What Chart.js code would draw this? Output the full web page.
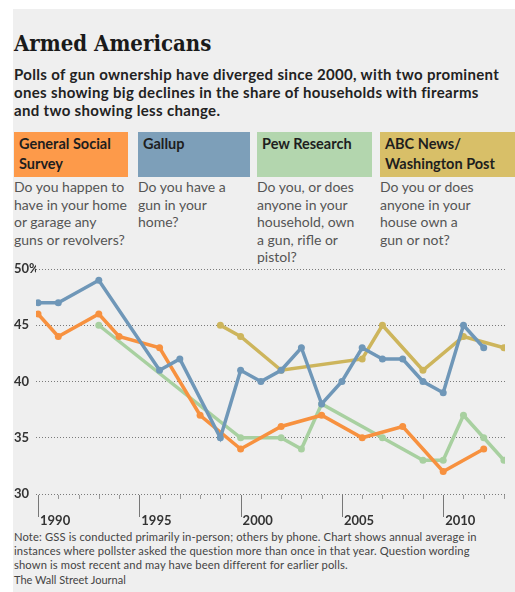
<!DOCTYPE html>
<html lang="en">
<head>
    <meta charset="UTF-8">
    <title>Armed Americans</title>
    <script src="https://cdn.jsdelivr.net/npm/chart.js@4.4.2/dist/chart.umd.min.js"></script>
    <style>
        body {
          margin: 0;
          background: #fff;
          width: 515px;
          height: 592px;
          overflow: hidden;
          font-family: Lato, 'Open Sans', sans-serif;
          color: #222;}
        .panel {
          position: absolute;
          left: 13px; top: 9px; right: 0; bottom: 0;
          background: #efefef;}
        .title {
          position: absolute;
          left: 14px; top: 30px;
          font-family: 'DejaVu Serif Condensed', 'DejaVu Serif', serif;
          font-weight: bold;
          font-size: 22px;
          color: #1a1a1a;}
        .sub {
          position: absolute;
          left: 14px; top: 65px; width: 500px;
          font-weight: bold;
          font-size: 15px;
          line-height: 18px;
          letter-spacing: 0.33px;
          white-space: nowrap;
          color: #222;}
        .box {
          position: absolute;
          top: 132px; height: 45px;
          box-sizing: border-box;
          padding: 2px 0 0 5px;
          font-weight: bold;
          font-size: 14.5px;
          line-height: 20px;
          color: #1e1e1e;}
        .q {
          position: absolute;
          top: 178px;
          font-size: 14px;
          line-height: 17.5px;
          color: #555;}
        .note {
          position: absolute;
          left: 14px; top: 530px; width: 500px;
          font-size: 11.2px;
          line-height: 14px;
          letter-spacing: 0.13px;
          white-space: nowrap;
          color: #444;}
        .src {
          position: absolute;
          left: 14px; top: 573px;
          font-size: 11px;
          color: #444;}
        #chart {
          position: absolute;
          left: 0; top: 255px;}
    </style>
</head>
<body>
    <div class="panel"></div>
    <div class="title">Armed Americans</div>
    <div class="sub">Polls of gun ownership have diverged since 2000, with two prominent<br>ones showing big declines in the share of households with firearms<br>and two showing less change.</div>

    <div class="box" style="left:14px; width:114px; background:#fd9a4a;">General Social<br>Survey</div>
    <div class="box" style="left:138px; width:112px; background:#7d9fb9;">Gallup</div>
    <div class="box" style="left:257px; width:115px; background:#b3d6ae;">Pew Research</div>
    <div class="box" style="left:380px; width:135px; background:#d8bf68;">ABC News/<br>Washington Post</div>

    <div class="q" style="left:14px;">Do you happen to<br>have in your home<br>or garage any<br>guns or revolvers?</div>
    <div class="q" style="left:138px;">Do you have a<br>gun in your<br>home?</div>
    <div class="q" style="left:257px;">Do you, or does<br>anyone in your<br>household, own<br>a gun, rifle or<br>pistol?</div>
    <div class="q" style="left:380px;">Do you or does<br>anyone in your<br>house own a<br>gun or not?</div>

    <canvas id="chart" width="515" height="270"></canvas>

    <div class="note">Note: GSS is conducted primarily in-person; others by phone. Chart shows annual average in<br>instances where pollster asked the question more than once in that year. Question wording<br>shown is most recent and may have been different for earlier polls.</div>
    <div class="src">The Wall Street Journal</div>

<script>
    // Values (percent of households)
    const gssYears = [1990, 1991, 1993, 1994, 1996, 1998, 2000, 2002, 2004, 2006, 2008, 2010, 2012];
    const gssValues = [46, 44, 46, 44, 43, 37, 34, 36, 37, 35, 36, 32, 34];

    const gallupYears = [1990, 1991, 1993, 1996, 1997, 1999, 2000, 2001, 2002, 2003, 2004, 2005, 2006, 2007, 2008, 2009, 2010, 2011, 2012];
    const gallupValues = [47, 47, 49, 41, 42, 35, 41, 40, 41, 43, 38, 40, 43, 42, 42, 40, 39, 45, 43];

    const pewYears = [1993, 2000, 2002, 2003, 2004, 2007, 2009, 2010, 2011, 2012, 2013];
    const pewValues = [45, 35, 35, 34, 38, 35, 33, 33, 37, 35, 33];

    const abcYears = [1999, 2000, 2002, 2006, 2007, 2009, 2011, 2013];
    const abcValues = [45, 44, 41, 42, 45, 41, 44, 43];

    const labelYears = [1990, 1995, 2000, 2005, 2010];
    const yTicks = [30, 35, 40, 45, 50];

    function toPoints(xs, ys) {
        return xs.map((x, i) => ({x: x, y: ys[i]}));
    }

    function series(label, xs, ys, color) {
        return {
            label: label,
            data: toPoints(xs, ys),
            borderColor: color,
            backgroundColor: color,
            borderWidth: 3.5,
            pointRadius: 3.5,
            pointHoverRadius: 3.5,
            pointBorderWidth: 0,
            tension: 0,
            fill: false
        };
    }

    // small year marks under the bottom gridline
    const yearMarks = {
        id: 'yearMarks',
        afterDraw(chart) {
            const ctx = chart.ctx;
            const xs = chart.scales.x;
            const y0 = chart.chartArea.bottom;
            ctx.save();
            for (let yr = 1990; yr <= 2013; yr++) {
                const px = Math.round(xs.getPixelForValue(yr)) + 0.5;
                const major = yr % 5 === 0;
                ctx.strokeStyle = major ? '#777' : '#999';
                ctx.lineWidth = 1;
                ctx.beginPath();
                ctx.moveTo(px, y0 + 1);
                ctx.lineTo(px, y0 + (major ? 23 : 5));
                ctx.stroke();
            }
            ctx.restore();
        }
    };

    new Chart(document.getElementById('chart'), {
        type: 'line',
        data: {
            datasets: [
                series('Gallup', gallupYears, gallupValues, '#6f97b8'),
                series('General Social Survey', gssYears, gssValues, '#f7913f'),
                series('ABC News/Washington Post', abcYears, abcValues, '#cdb55c'),
                series('Pew Research', pewYears, pewValues, '#a8d0a0')
            ]
        },
        options: {
            responsive: false,
            animation: false,
            layout: {padding: {top: 14, left: 14, right: 10, bottom: 0}},
            plugins: {legend: {display: false}, tooltip: {enabled: false}},
            scales: {
                x: {
                    type: 'linear',
                    min: 1989.9,
                    max: 2013.05,
                    afterBuildTicks: s => { s.ticks = labelYears.map(v => ({value: v})); },
                    afterFit: s => { s.height = 31; },
                    grid: {display: false},
                    border: {display: false},
                    ticks: {
                        align: 'start',
                        labelOffset: 2,
                        padding: 11,
                        color: '#333',
                        font: {family: 'Lato', weight: 'bold', size: 13},
                        callback: v => String(v)
                    }
                },
                y: {
                    min: 30,
                    max: 50,
                    afterBuildTicks: s => { s.ticks = yTicks.map(v => ({value: v})); },
                    afterFit: s => { s.width = 22; },
                    grid: {color: '#7a7a7a', lineWidth: 1, drawTicks: false, borderDash: [1, 2]},
                    border: {display: false, dash: [1, 2]},
                    ticks: {
                        crossAlign: 'far',
                        padding: 0,
                        color: '#333',
                        font: {family: 'Lato', weight: 'bold', size: 13},
                        callback: v => v === 50 ? '50%' : String(v)
                    }
                }
            }
        },
        plugins: [yearMarks]
    });
</script>
</body>
</html>
